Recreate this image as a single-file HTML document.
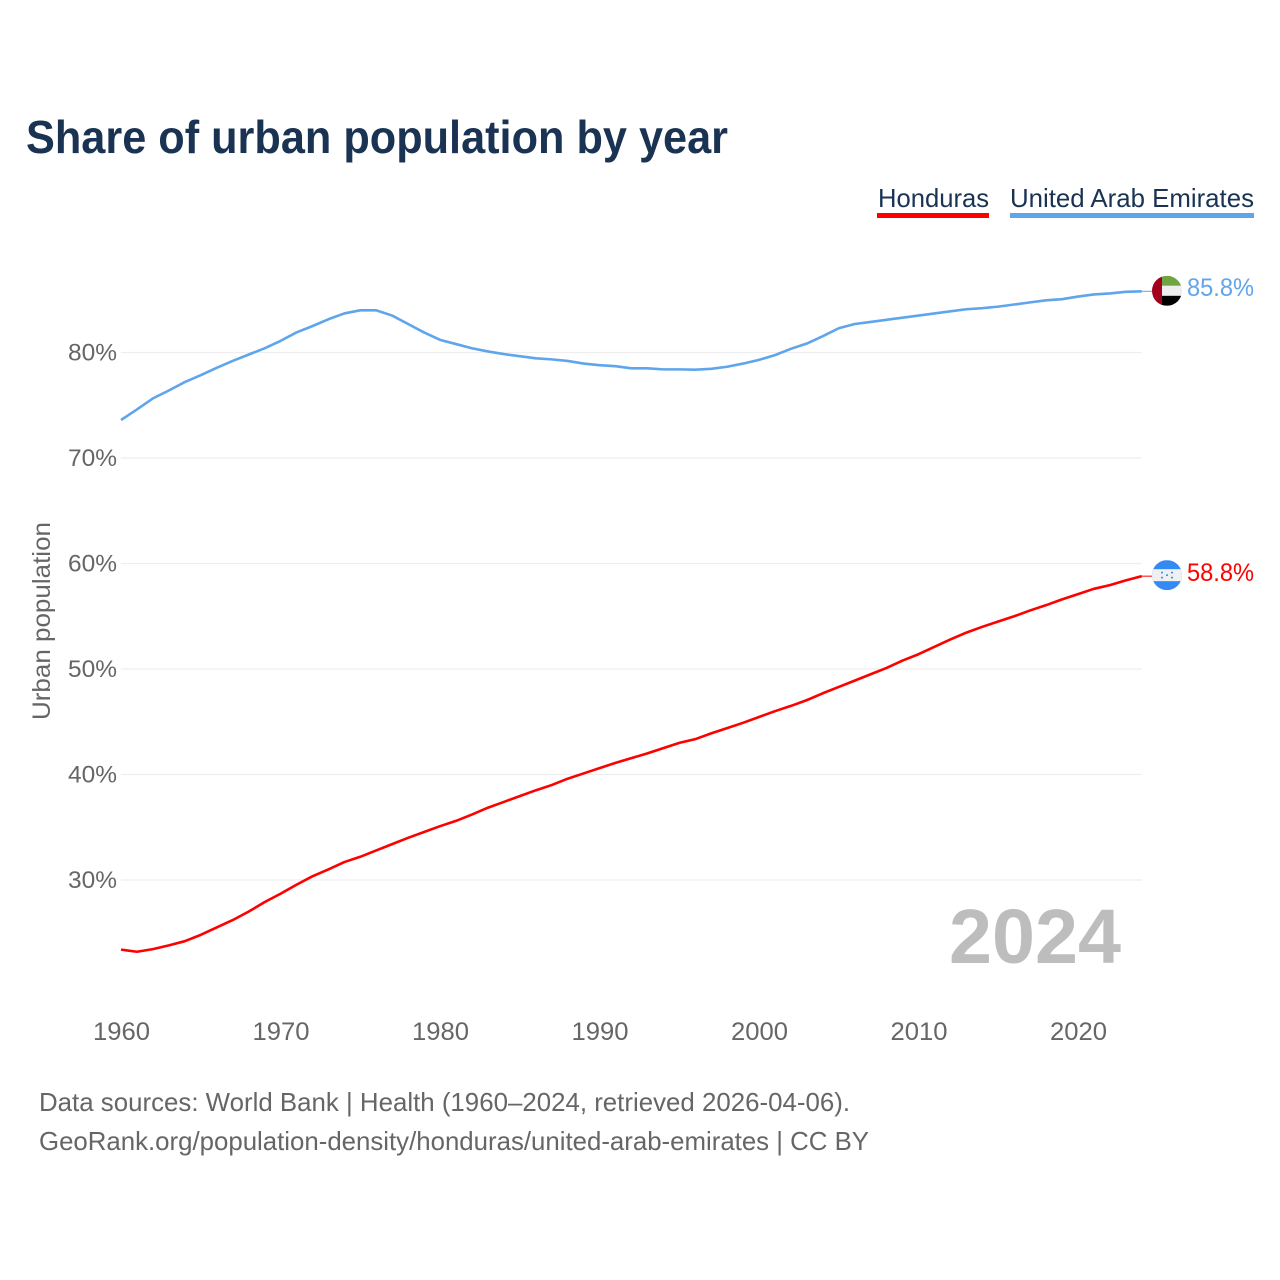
<!DOCTYPE html>
<html lang="en">
<head>
<meta charset="utf-8">
<title>Share of urban population by year</title>
<style>
html,body{margin:0;padding:0;background:#fff;}
svg{display:block;}
text{font-family:"Liberation Sans",sans-serif;}
</style>
</head>
<body>
<svg id="chart" xmlns="http://www.w3.org/2000/svg" width="1280" height="1280" viewBox="0 0 1280 1280">
  <defs>
    <clipPath id="flag-clip"><circle cx="0" cy="0" r="15"></circle></clipPath>
  </defs>
  <rect x="0" y="0" width="1280" height="1280" fill="#fff"></rect>
  <text x="26" y="153" font-size="46" font-weight="700" fill="#1a3353" textLength="702" lengthAdjust="spacingAndGlyphs">Share of urban population by year</text>

  <g>
    <g>
      <text x="878" y="207" font-size="26" fill="#1a3353" textLength="111" lengthAdjust="spacingAndGlyphs">Honduras</text>
      <rect x="877" y="213" width="112" height="5" fill="#ff0000"></rect>
    </g>
    <g>
      <text x="1010" y="207" font-size="26" fill="#1a3353" textLength="244" lengthAdjust="spacingAndGlyphs">United Arab Emirates</text>
      <rect x="1010" y="213" width="244" height="5" fill="#5fa5ec"></rect>
    </g>
  </g>

  <g id="grid"></g>
  <g id="y-ticks"></g>
  <g id="x-ticks"></g>
  <text transform="translate(50 720) rotate(-90)" font-size="25" fill="#666" textLength="198" lengthAdjust="spacingAndGlyphs">Urban population</text>
  <text x="949" y="963" font-size="77" font-weight="700" fill="#bdbdbd" textLength="172" lengthAdjust="spacingAndGlyphs">2024</text>

  <g id="series"></g>

  <g id="flag-are">
    <g clip-path="url(#flag-clip)">
      <rect x="-15" y="-15" width="30" height="10" fill="#6ea542"></rect>
      <rect x="-15" y="-5" width="30" height="10" fill="#eeeeee"></rect>
      <rect x="-15" y="5" width="30" height="10" fill="#000000"></rect>
      <rect x="-15" y="-15" width="10" height="30" fill="#a2001d"></rect>
    </g>
  </g>
  <g id="flag-hnd">
    <g clip-path="url(#flag-clip)">
      <rect x="-15" y="-15" width="30" height="30" fill="#338af3"></rect>
      <rect x="-15" y="-6" width="30" height="12" fill="#f0f0f0"></rect>
      <circle cx="-5" cy="-2.5" r="1" fill="#338af3"></circle>
      <circle cx="5" cy="-2.5" r="1" fill="#338af3"></circle>
      <circle cx="0" cy="0" r="1" fill="#338af3"></circle>
      <circle cx="-5" cy="2.5" r="1" fill="#338af3"></circle>
      <circle cx="5" cy="2.5" r="1" fill="#338af3"></circle>
    </g>
  </g>
  <text id="value-are" x="1187" font-size="25" fill="#5fa5ec" textLength="67" lengthAdjust="spacingAndGlyphs"></text>
  <text id="value-hnd" x="1187" font-size="25" fill="#ff0000" textLength="67" lengthAdjust="spacingAndGlyphs"></text>

  <g>
    <text x="39" y="1111" font-size="26" fill="#666" textLength="811" lengthAdjust="spacingAndGlyphs">Data sources: World Bank | Health (1960–2024, retrieved 2026-04-06).</text>
    <text x="39" y="1150" font-size="26" fill="#666" textLength="830" lengthAdjust="spacingAndGlyphs">GeoRank.org/population-density/honduras/united-arab-emirates | CC BY</text>
  </g>
</svg>
<script>
const startYear = 1960;
const yTickValues = [30, 40, 50, 60, 70, 80];
const xTickYears = [1960, 1970, 1980, 1990, 2000, 2010, 2020];
const uaeValues = [73.6,74.6,75.65,76.4,77.2,77.85,78.55,79.2,79.8,80.4,81.1,81.9,82.5,83.15,83.7,84.0,84.0,83.5,82.7,81.9,81.2,80.8,80.4,80.1,79.85,79.65,79.45,79.35,79.2,78.95,78.8,78.7,78.5,78.5,78.4,78.4,78.37,78.45,78.65,78.95,79.3,79.75,80.35,80.85,81.55,82.3,82.7,82.9,83.1,83.3,83.5,83.7,83.9,84.1,84.2,84.35,84.55,84.75,84.95,85.05,85.3,85.5,85.6,85.75,85.8];
const hondurasValues = [23.4,23.2,23.45,23.8,24.2,24.8,25.5,26.2,27.0,27.9,28.7,29.55,30.35,31.0,31.7,32.2,32.8,33.4,34.0,34.55,35.1,35.6,36.2,36.85,37.4,37.95,38.5,39.0,39.6,40.1,40.6,41.1,41.55,42.0,42.5,43.0,43.35,43.9,44.4,44.9,45.45,46.0,46.5,47.05,47.7,48.3,48.9,49.5,50.1,50.8,51.4,52.1,52.8,53.45,54.0,54.5,55.0,55.55,56.05,56.6,57.1,57.6,57.95,58.4,58.8];

const NS = 'http://www.w3.org/2000/svg';
const xPos = function (year) { return 121 + (year - 1960) * 15.95; };
const yPos = function (value) { return 880 - (value - 30) * 10.55; };

function make(tag, parent, attrs, content) {
  const el = document.createElementNS(NS, tag);
  Object.keys(attrs).forEach(function (k) { el.setAttribute(k, attrs[k]); });
  if (content !== undefined) { el.textContent = content; }
  parent.appendChild(el);
  return el;
}

const gridGroup = document.getElementById('grid');
const yTickGroup = document.getElementById('y-ticks');
const xTickGroup = document.getElementById('x-ticks');
const seriesGroup = document.getElementById('series');
const lastYear = startYear + hondurasValues.length - 1;

yTickValues.forEach(function (v) {
  const line = make('line', gridGroup, {x1: 121, x2: xPos(lastYear), y1: yPos(v), y2: yPos(v), stroke: '#eeeeee', 'stroke-width': 1.3});
  
  
  const label = make('text', yTickGroup, {x: 117, y: yPos(v) + 8, 'font-size': 24, fill: '#666', 'text-anchor': 'end', textLength: 49, lengthAdjust: 'spacingAndGlyphs'}, v + '%');
  
  
});

xTickYears.forEach(function (yr) {
  const label = make('text', xTickGroup, {x: xPos(yr) + 0.5, y: 1040, 'font-size': 25, fill: '#666', 'text-anchor': 'middle', textLength: 57, lengthAdjust: 'spacingAndGlyphs'}, String(yr));
  
  
});

function linePoints(values) {
  return values.map(function (v, i) { return xPos(startYear + i).toFixed(2) + ',' + yPos(v).toFixed(2); }).join(' ');
}

const uaeLine = make('polyline', seriesGroup, {points: linePoints(uaeValues), fill: 'none', stroke: '#5fa5ec', 'stroke-width': 2.6, 'stroke-linejoin': 'round'});


const hondurasLine = make('polyline', seriesGroup, {points: linePoints(hondurasValues), fill: 'none', stroke: '#ff0000', 'stroke-width': 2.6, 'stroke-linejoin': 'round'});



const uaeLast = uaeValues[uaeValues.length - 1];
const hondurasLast = hondurasValues[hondurasValues.length - 1];
const uaeLeader = make('line', seriesGroup, {x1: xPos(lastYear), x2: 1152, y1: yPos(uaeLast), y2: yPos(uaeLast), stroke: '#5fa5ec', 'stroke-width': 1});


const hondurasLeader = make('line', seriesGroup, {x1: xPos(lastYear), x2: 1152, y1: yPos(hondurasLast), y2: yPos(hondurasLast), stroke: '#ff0000', 'stroke-width': 1});



document.getElementById('flag-are').setAttribute('transform', 'translate(1167 ' + (yPos(uaeLast) - 0.5) + ')');
document.getElementById('flag-hnd').setAttribute('transform', 'translate(1167 ' + (yPos(hondurasLast) - 1) + ')');

const uaeValueText = document.getElementById('value-are');
uaeValueText.setAttribute('y', yPos(uaeLast) + 4.5);
uaeValueText.textContent = uaeLast.toFixed(1) + '%';
const hondurasValueText = document.getElementById('value-hnd');
hondurasValueText.setAttribute('y', yPos(hondurasLast) + 5);
hondurasValueText.textContent = hondurasLast.toFixed(1) + '%';
</script>
</body>
</html>
